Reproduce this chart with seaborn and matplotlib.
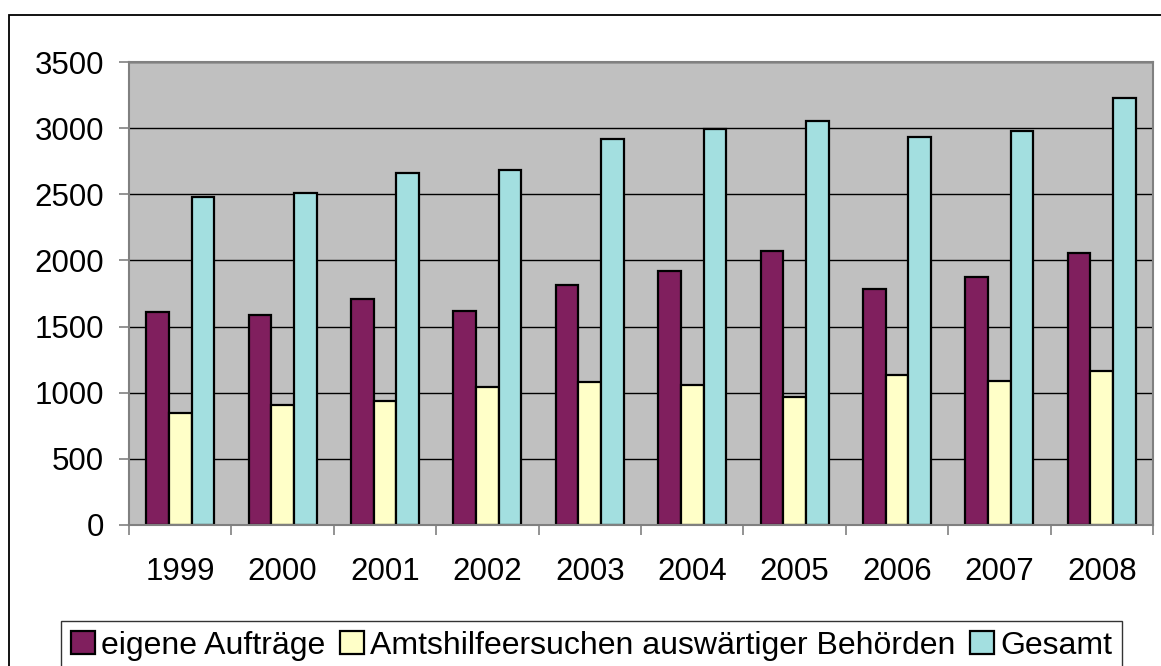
import pandas as pd
import matplotlib
matplotlib.use("Agg")
import matplotlib.pyplot as plt
import matplotlib.patches as mpatches
import seaborn as sns

# values
jahre = ["1999", "2000", "2001", "2002", "2003", "2004", "2005", "2006", "2007", "2008"]
eigene = [1608, 1588, 1710, 1621, 1818, 1922, 2068, 1783, 1874, 2053]
amtshilfe = [850, 909, 937, 1045, 1083, 1055, 970, 1134, 1091, 1162]
gesamt = [2477, 2510, 2664, 2682, 2917, 2990, 3053, 2932, 2975, 3230]

serien = ["eigene Aufträge", "Amtshilfeersuchen auswärtiger Behörden", "Gesamt"]
farben = ["#801F5E", "#FFFFC8", "#A3DFE0"]

df = pd.DataFrame({
    "Jahr": jahre * 3,
    "Serie": [serien[0]] * 10 + [serien[1]] * 10 + [serien[2]] * 10,
    "Wert": eigene + amtshilfe + gesamt,
})

sns.set_theme(style="white")
plt.rcParams["font.family"] = ["Liberation Sans", "DejaVu Sans"]
plt.rcParams["text.color"] = "black"
plt.rcParams["xtick.color"] = "black"
plt.rcParams["ytick.color"] = "black"

W, H = 1161, 666
fig = plt.figure(figsize=(W / 100, H / 100), dpi=100)
ax = fig.add_axes([129 / W, 1 - 525 / H, (1153 - 129) / W, (525 - 62) / H])

sns.barplot(data=df, x="Jahr", y="Wert", hue="Serie", palette=farben,
            width=0.665, edgecolor="black", linewidth=1.6, saturation=1,
            ax=ax, legend=False)

ax.set_facecolor("#C0C0C0")
ax.set_axisbelow(True)
ax.set_ylim(0, 3500)
ax.set_xlim(-0.5, 9.5)
ax.set_yticks(range(0, 3501, 500))
ax.yaxis.grid(True, color="black", linewidth=1.0)
ax.xaxis.grid(False)
ax.set_xlabel("")
ax.set_ylabel("")
for s in ax.spines.values():
    s.set_color("#808080")
    s.set_linewidth(1.5)

ax.tick_params(axis="y", which="major", length=7, width=1.2, color="#808080",
               direction="out", left=True, pad=11, labelsize=22.5,
               labelcolor="black")
ax.set_xticks([i - 0.5 for i in range(11)], minor=True)
ax.tick_params(axis="x", which="minor", length=7, width=1.2, color="#808080",
               direction="out", bottom=True)
ax.tick_params(axis="x", which="major", length=0, pad=23, labelsize=22.5,
               labelcolor="black")

# outer chart border
fig.patches.append(mpatches.Rectangle((9 / W, -0.1), 1.2, 1 - 15 / H + 0.1,
                                      transform=fig.transFigure, fill=False,
                                      edgecolor="black", linewidth=1.3))

handles = [mpatches.Patch(facecolor=f, edgecolor="black", linewidth=1.6) for f in farben]
leg = fig.legend(handles, serien, loc="upper left", ncol=3,
                 bbox_to_anchor=(61 / W, 1 - 621 / H), borderaxespad=0,
                 fontsize=23, handlelength=0.75, handleheight=0.75,
                 handletextpad=0.2, columnspacing=0.45, borderpad=0.3,
                 frameon=True, fancybox=False)
leg.get_frame().set_edgecolor("black")
leg.get_frame().set_linewidth(1.0)

fig.savefig("out.png", dpi=100)
